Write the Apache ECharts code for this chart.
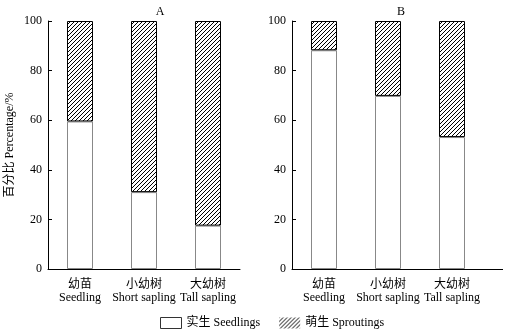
<!DOCTYPE html>
<html>
<head>
<meta charset="utf-8">
<script src="https://cdn.jsdelivr.net/npm/echarts@6/dist/echarts.min.js"></script>
<style>
  html, body { margin: 0; padding: 0; background: #fff; }
  #chart { width: 506px; height: 334px; }
</style>
</head>
<body>
<div id="chart"></div>
<script>
  // 数据
  var catZh = ['幼苗', '小幼树', '大幼树'];
  var catEn = ['Seedling', 'Short sapling', 'Tall sapling'];
  var seedA = [59.5, 31, 17.5];     // 实生 A
  var sproutA = [40.5, 69, 82.5];   // 萌生 A
  var seedB = [88.2, 69.8, 53.2];   // 实生 B
  var sproutB = [11.8, 30.2, 46.8]; // 萌生 B
  var yTicks = [0, 20, 40, 60, 80, 100];

  var SERIF = '"Liberation Serif", "Times New Roman", "Noto Sans CJK SC", serif';
  var CJK = '"Noto Sans CJK SC", "Liberation Serif", serif';

  // 斜线填充
  function hatch() {
    var c = document.createElement('canvas');
    c.width = 4; c.height = 4;
    var ctx = c.getContext('2d');
    ctx.fillStyle = '#fff';
    ctx.fillRect(0, 0, 4, 4);
    ctx.strokeStyle = '#000';
    ctx.lineWidth = 1;
    ctx.beginPath();
    ctx.moveTo(0, 4); ctx.lineTo(4, 0);
    ctx.moveTo(-1, 1); ctx.lineTo(1, -1);
    ctx.moveTo(3, 5); ctx.lineTo(5, 3);
    ctx.stroke();
    return c;
  }
  var hatchFill = { image: hatch(), repeat: 'repeat' };

  var categories = catZh.map(function (z, i) { return z + '\n' + catEn[i]; });

  function xAxis(idx) {
    return {
      type: 'category',
      gridIndex: idx,
      data: categories,
      axisLine: { lineStyle: { color: '#000', width: 1 } },
      axisTick: { show: false },
      axisLabel: {
        interval: 0,
        margin: 7,
        formatter: function (v) {
          var p = v.split('\n');
          return '{zh|' + p[0] + '}\n{en|' + p[1] + '}';
        },
        rich: {
          zh: { fontFamily: CJK, fontSize: 12, color: '#000', lineHeight: 15 },
          en: { fontFamily: SERIF, fontSize: 12, color: '#000', lineHeight: 14 }
        }
      }
    };
  }

  function yAxis(idx, withName) {
    var o = {
      type: 'value',
      gridIndex: idx,
      min: yTicks[0],
      max: yTicks[yTicks.length - 1],
      interval: 20,
      axisLine: { show: true, lineStyle: { color: '#000', width: 1 } },
      axisTick: { show: true, inside: true, length: 4, lineStyle: { color: '#000' } },
      splitLine: { show: false },
      axisLabel: { fontFamily: SERIF, fontSize: 12, color: '#000', margin: 6 }
    };
    if (withName) {
      o.name = '百分比 Percentage/%';
      o.nameLocation = 'middle';
      o.nameGap = 32;
      o.nameTextStyle = { fontFamily: SERIF, fontSize: 12, color: '#000' };
    }
    return o;
  }

  var seedStyle = { color: '#fff', borderColor: '#888', borderWidth: 1 };
  var sproutStyle = { color: hatchFill, borderColor: '#000', borderWidth: 1 };

  var option = {
    backgroundColor: '#fff',
    animation: false,
    title: [
      { text: 'A', left: 155, top: 1, textAlign: 'center',
        textStyle: { fontFamily: SERIF, fontSize: 12, fontWeight: 'normal', color: '#000' } },
      { text: 'B', left: 396, top: 1, textAlign: 'center',
        textStyle: { fontFamily: SERIF, fontSize: 12, fontWeight: 'normal', color: '#000' } }
    ],
    legend: {
      left: 155,
      top: 312,
      icon: 'rect',
      itemWidth: 21,
      itemHeight: 11,
      itemGap: 19,
      textStyle: { fontFamily: SERIF, fontSize: 12, color: '#000' },
      data: [
        { name: '实生 Seedlings', itemStyle: { color: '#fff', borderColor: '#333', borderWidth: 1 } },
        { name: '萌生 Sproutings', itemStyle: { color: hatchFill, borderWidth: 0 } }
      ]
    },
    grid: [
      { left: 48, top: 21, width: 192, height: 248 },
      { left: 292, top: 21, width: 192, height: 248 }
    ],
    xAxis: [xAxis(0), xAxis(1)],
    yAxis: [yAxis(0, true), yAxis(1, false)],
    graphic: [
      // 右图横轴延长部分
      { type: 'line', shape: { x1: 484, y1: 269.5, x2: 503, y2: 269.5 },
        style: { stroke: '#000', lineWidth: 1 } }
    ],
    series: [
      { name: '实生 Seedlings', type: 'bar', stack: 'A', xAxisIndex: 0, yAxisIndex: 0,
        barWidth: 26, data: seedA, itemStyle: seedStyle },
      { name: '萌生 Sproutings', type: 'bar', stack: 'A', xAxisIndex: 0, yAxisIndex: 0,
        barWidth: 26, data: sproutA, itemStyle: sproutStyle },
      { name: '实生 Seedlings', type: 'bar', stack: 'B', xAxisIndex: 1, yAxisIndex: 1,
        barWidth: 26, data: seedB, itemStyle: seedStyle },
      { name: '萌生 Sproutings', type: 'bar', stack: 'B', xAxisIndex: 1, yAxisIndex: 1,
        barWidth: 26, data: sproutB, itemStyle: sproutStyle }
    ]
  };

  var myChart = echarts.init(document.getElementById('chart'), null, { renderer: 'canvas' });
  myChart.setOption(option);
</script>
</body>
</html>
